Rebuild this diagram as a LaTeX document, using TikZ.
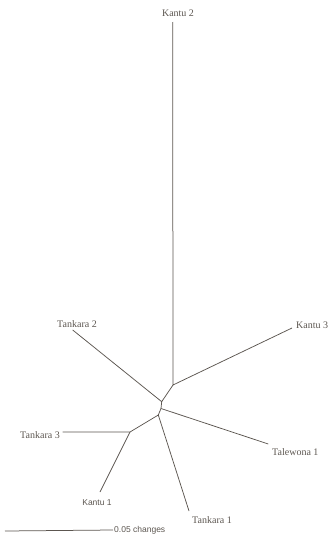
\documentclass[tikz,border=0pt]{standalone}
\usepackage{fontspec}
\setmainfont{Liberation Serif}
\newfontfamily\labsans{Liberation Sans}
\usetikzlibrary{positioning}
\definecolor{inkc}{RGB}{92,86,80}
\tikzset{
  taxon/.style={inner sep=1pt, text=inkc, font=\fontsize{10}{12}\selectfont},
  taxonsf/.style={inner sep=1pt, text=inkc, font=\labsans\fontsize{8.5}{10}\selectfont},
  branch/.style={draw=inkc, line width=0.75pt, line join=round},
}

\begin{document}
\begin{tikzpicture}[x=1pt, y=-1pt]
  \useasboundingbox (0,0) rectangle (331,538);
  % internal nodes of the tree
  \coordinate (na) at (173,385);
  \coordinate (nb) at (161.7,401.7);
  \coordinate (nc) at (161,408.5);
  \coordinate (nd) at (158.3,415);
  \coordinate (ne) at (130,432);
  % tips
  \coordinate (kantuII) at (172.7,22);
  \coordinate (kantuIII) at (292,328);
  \coordinate (tankaraII) at (72.7,330);
  \coordinate (talewona) at (268.3,444);
  \coordinate (tankaraI) at (189,511);
  \coordinate (tankaraIII) at (62.7,432);
  \coordinate (kantuI) at (100,492);
  % labels
  \node[taxon] (lkantuII) at (178,13) {Kantu 2};
  \node[taxon, anchor=west] (lkantuIII) at (295,325) {Kantu 3};
  \node[taxon] (ltankaraII) at (77,324) {Tankara 2};
  \node[taxon, anchor=east] (ltankaraIII) at (61,435) {Tankara 3};
  \node[taxon, anchor=west] (ltalewona) at (271,452) {Talewona 1};
  \node[taxon, anchor=west] (ltankaraI) at (191,520) {Tankara 1};
  \node[taxonsf] (lkantuI) at (97,503) {Kantu 1};
  % branches
  \draw[branch] (kantuII) -- (na) -- (kantuIII);
  \draw[branch] (na) -- (nb) -- (tankaraII);
  \draw[branch] (nb) -- (nc) -- (talewona);
  \draw[branch] (nc) -- (nd) -- (tankaraI);
  \draw[branch] (nd) -- (ne) -- (tankaraIII);
  \draw[branch] (ne) -- (kantuI);
  % scale bar
  \coordinate (sbl) at (5,531);
  \node[taxonsf, anchor=west] (lscale) at (113,530) {0.05 changes};
  \draw[branch] (sbl) -- (lscale.west);
\end{tikzpicture}
\end{document}
